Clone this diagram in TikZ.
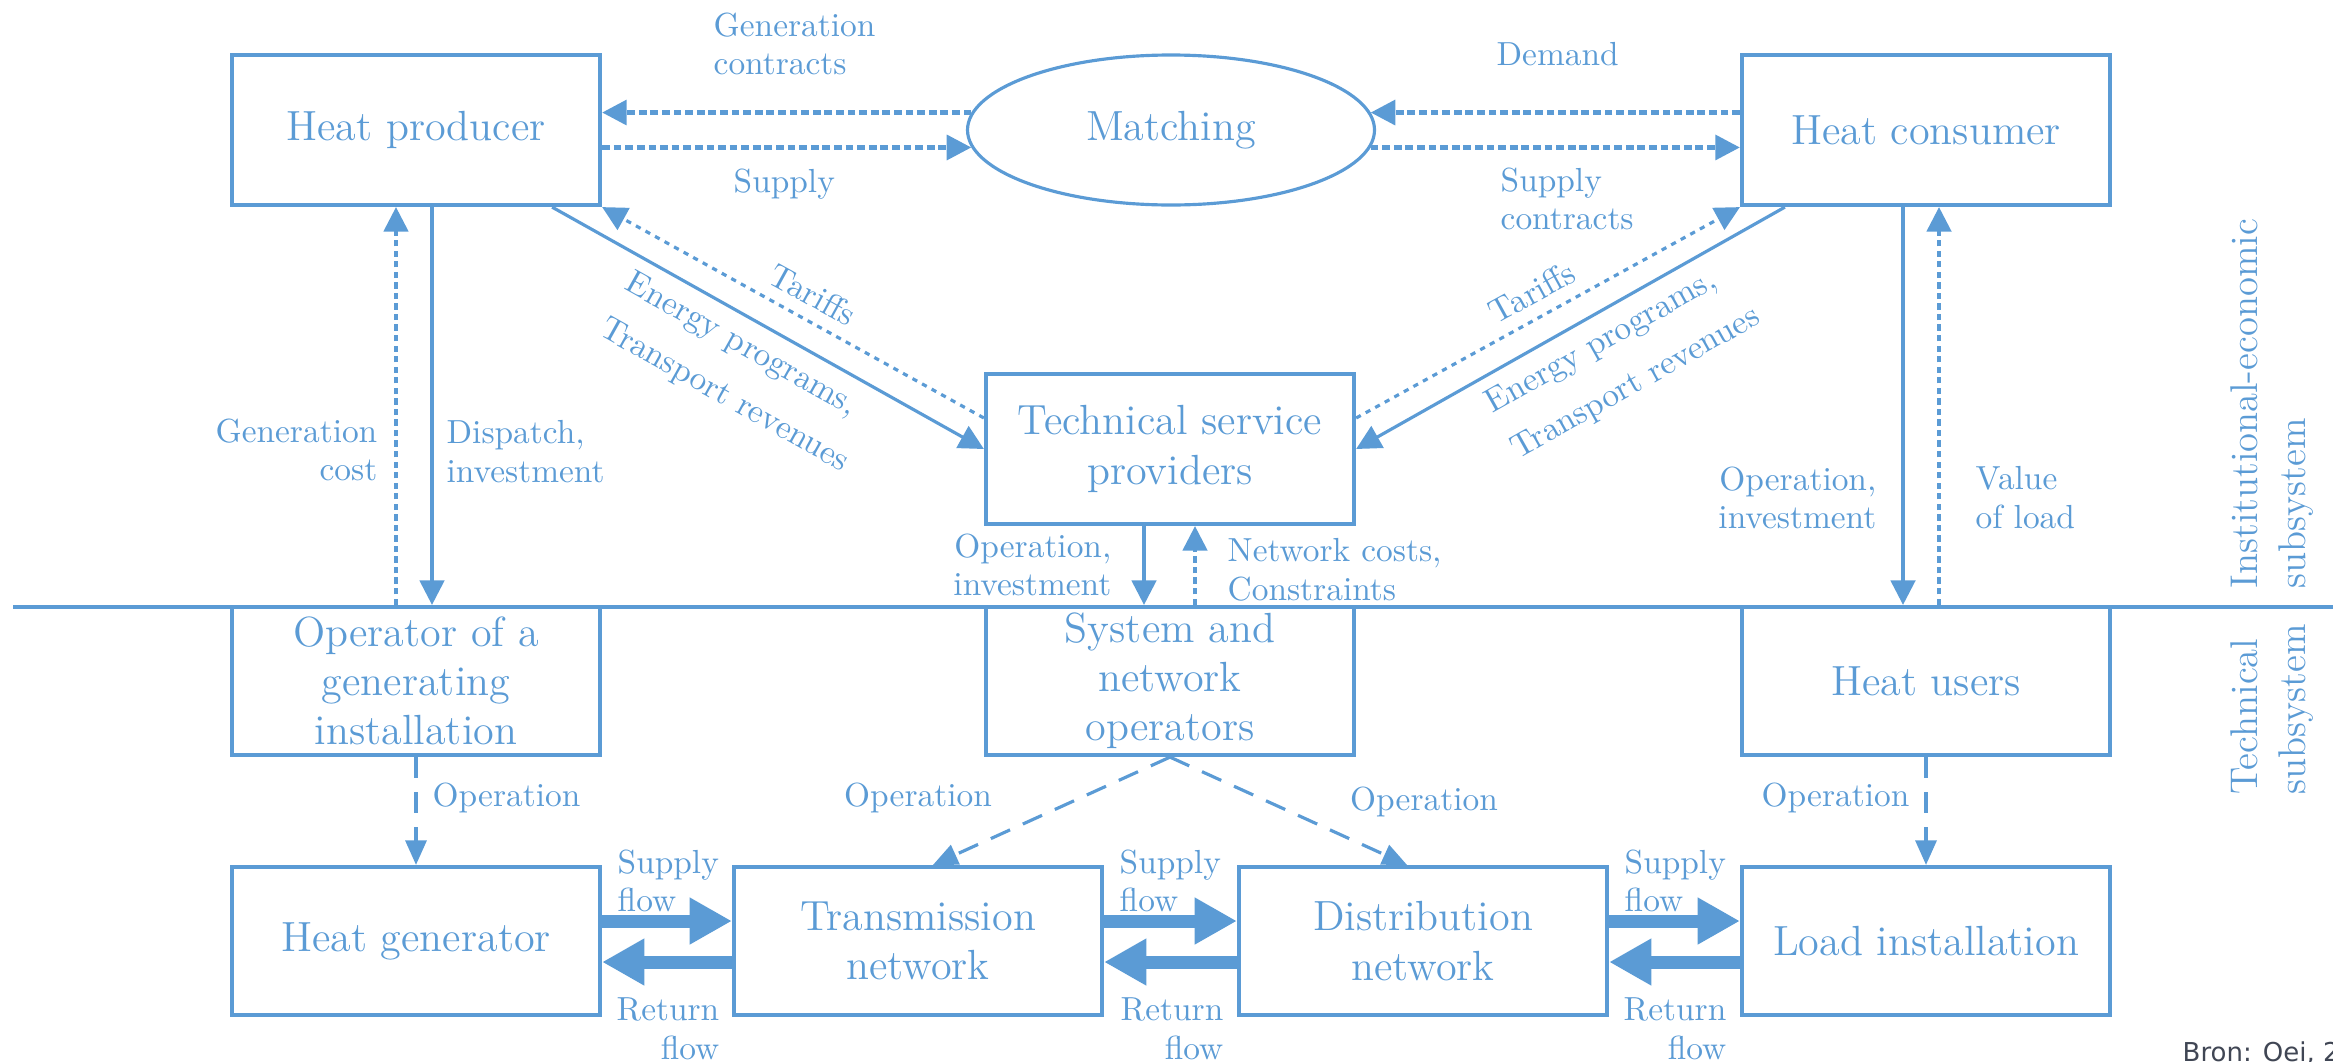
\documentclass[tikz,border=0pt]{standalone}
\usepackage{fontspec}
\newfontfamily\bronfont{DejaVu Sans}
\usetikzlibrary{arrows.meta,shapes.geometric}
\definecolor{hblue}{RGB}{91,155,213}
\definecolor{srcgray}{RGB}{64,70,84}

\begin{document}
\begin{tikzpicture}[
    box/.style={draw=hblue, line width=1.2pt, minimum width=3.68cm,
      minimum height=1.5cm, inner sep=1pt, align=center, text=hblue,
      font=\fontsize{12}{14}\selectfont},
    lowbox/.style={box, minimum height=1.48cm},
    lbl/.style={text=hblue, inner sep=0pt, font=\fontsize{9.5}{11}\selectfont},
    slbl/.style={lbl, sloped, inner sep=0.12cm, font=\fontsize{9.5}{15}\selectfont},
    side/.style={lbl, rotate=90, anchor=west, align=left,
      font=\fontsize{11}{13.5}\selectfont},
    solidarr/.style={draw=hblue, line width=0.9pt, -{Triangle[length=7pt,width=7pt]}},
    dotarr/.style={draw=hblue, line width=0.9pt, dash pattern=on 1.8pt off 1.2pt,
      -{Triangle[length=7pt,width=7pt]}},
    wdotarr/.style={dotarr, line width=1.3pt, dash pattern=on 2.2pt off 1.1pt},
    diagarr/.style={dotarr, dash pattern=on 1.5pt off 1.6pt},
    opsarr/.style={draw=hblue, line width=0.9pt, dash pattern=on 6pt off 4pt,
      -{Triangle[length=7pt,width=6pt]}},
    flow/.style={draw=hblue, line width=3.7pt, -{Triangle[length=12pt,width=12.5pt]}}
  ]
  \useasboundingbox (0,0) rectangle (23.33,10.61);

  % institutional-economic subsystem
  \node[box] (prod) at (4.16,9.31) {Heat producer};
  \node[box, shape=ellipse, minimum width=4.07cm, inner sep=0pt, line width=0.9pt] %
    (match) at (11.71,9.31) {Matching};
  \node[box] (cons) at (19.26,9.31) {Heat consumer};
  \node[box] (tsp) at (11.70,6.12) {Technical service\\providers};

  % technical subsystem
  \node[lowbox] (op) at (4.16,3.80) {Operator of a\\generating\\installation};
  \node[lowbox] (sno) at (11.70,3.80) {System and\\network\\operators};
  \node[lowbox] (users) at (19.26,3.80) {Heat users};
  \node[lowbox] (gen) at (4.16,1.20) {Heat generator};
  \node[lowbox] (trans) at (9.18,1.20) {Transmission\\network};
  \node[lowbox] (dist) at (14.23,1.20) {Distribution\\network};
  \node[lowbox] (load) at (19.26,1.20) {Load installation};

  \coordinate (divL) at (0.13,4.54);
  \coordinate (divR) at (23.33,4.54);
  \draw[hblue, line width=1.2pt] (divL) -- (divR);

  % market
  \draw[wdotarr] (match.175) -- (match.175 -| prod.east);
  \draw[wdotarr] (prod.east |- match.185) -- (match.185);
  \draw[wdotarr] (cons.west |- match.5) -- (match.5);
  \draw[wdotarr] (match.355) -- (match.355 -| cons.west);
  \node[lbl, anchor=north west, align=left] (lGenCon) at (7.13,10.49) {Generation\\contracts};
  \node[lbl, anchor=north west] (lSupply) at (7.33,8.93) {Supply};
  \node[lbl, anchor=north west] (lDemand) at (14.96,10.19) {Demand};
  \node[lbl, anchor=north west, align=left] (lSupCon) at (15.00,8.94) {Supply\\contracts};

  % down to the technical side
  \draw[dotarr] ([xshift=-0.2cm]op.north) -- ([xshift=-0.2cm]prod.south);
  \draw[solidarr] ([xshift=0.16cm]prod.south) -- ([xshift=0.16cm]op.north);
  \draw[solidarr] ([xshift=-0.26cm]tsp.south) -- ([xshift=-0.26cm]sno.north);
  \draw[dotarr] ([xshift=0.25cm]sno.north) -- ([xshift=0.25cm]tsp.south);
  \draw[solidarr] ([xshift=-0.23cm]cons.south) -- ([xshift=-0.23cm]users.north);
  \draw[dotarr] ([xshift=0.13cm]users.north) -- ([xshift=0.13cm]cons.south);
  \node[lbl, anchor=north east, align=right] (lGenCost) at (3.78,6.43) {Generation\\cost};
  \node[lbl, anchor=north west, align=left] (lDispatch) at (4.46,6.41) {Dispatch,\\investment};
  \node[lbl, anchor=north east, align=right] (lOpInvA) at (11.12,5.28) {Operation,\\investment};
  \node[lbl, anchor=north west, align=left] (lNetCost) at (12.27,5.23) {Network costs,\\Constraints};
  \node[lbl, anchor=north east, align=right] (lOpInvB) at (18.77,5.95) {Operation,\\investment};
  \node[lbl, anchor=north west, align=left] (lValue) at (19.75,5.95) {Value\\of load};

  % service providers
  \draw[solidarr] ([xshift=-0.5cm]prod.south east) -- node[slbl, below, align=left, pos=0.49] %
    (lEnergyA) {Energy programs,\\Transport revenues} (tsp.west);
  \draw[diagarr] ([yshift=0.31cm]tsp.west) -- node[slbl, above, pos=0.48] %
    (lTariffA) {Tariffs} (prod.south east);
  \draw[solidarr] ([xshift=0.45cm]cons.south west) -- node[slbl, below, align=left, pos=0.44] %
    (lEnergyB) {Energy programs,\\Transport revenues} (tsp.east);
  \draw[diagarr] ([yshift=0.31cm]tsp.east) -- node[slbl, above, pos=0.49] %
    (lTariffB) {Tariffs} (cons.south west);

  % operation
  \draw[opsarr] (op.south) -- (gen.north);
  \draw[opsarr] (sno.south) -- ([xshift=0.15cm]trans.north);
  \draw[opsarr] (sno.south) -- ([xshift=-0.16cm]dist.north);
  \draw[opsarr] (users.south) -- (load.north);
  \node[lbl, anchor=west] (lOpA) at (4.32,2.63) {Operation};
  \node[lbl] (lOpB) at (9.18,2.63) {Operation};
  \node[lbl] (lOpC) at (14.24,2.59) {Operation};
  \node[lbl, anchor=east] (lOpD) at (19.10,2.63) {Operation};

  % heat flows
  \draw[flow] ([yshift=0.2cm]gen.east) -- ([yshift=0.2cm]trans.west);
  \draw[flow] ([yshift=-0.21cm]trans.west) -- ([yshift=-0.21cm]gen.east);
  \draw[flow] ([yshift=0.2cm]trans.east) -- ([yshift=0.2cm]dist.west);
  \draw[flow] ([yshift=-0.21cm]dist.west) -- ([yshift=-0.21cm]trans.east);
  \draw[flow] ([yshift=0.2cm]dist.east) -- ([yshift=0.2cm]load.west);
  \draw[flow] ([yshift=-0.21cm]load.west) -- ([yshift=-0.21cm]dist.east);
  \node[lbl, anchor=north west, align=left] (lSupA) at (6.17,2.12) {Supply\\flow};
  \node[lbl, anchor=north east, align=right] (lRetA) at (7.20,0.64) {Return\\flow};
  \node[lbl, anchor=north west, align=left] (lSupB) at (11.19,2.12) {Supply\\flow};
  \node[lbl, anchor=north east, align=right] (lRetB) at (12.24,0.64) {Return\\flow};
  \node[lbl, anchor=north west, align=left] (lSupC) at (16.24,2.12) {Supply\\flow};
  \node[lbl, anchor=north east, align=right] (lRetC) at (17.27,0.64) {Return\\flow};

  % subsystems
  \node[side] (lInst) at (22.72,4.72) {Institutional-economic\\subsystem};
  \node[side] (lTech) at (22.72,2.66) {Technical\\subsystem};

  \node[anchor=base west, inner sep=0pt, text=srcgray, font=\fontsize{7.4}{9}\selectfont\bronfont] %
    (src) at (21.82,0.0) {Bron: Oei, 2};
\end{tikzpicture}
\end{document}
